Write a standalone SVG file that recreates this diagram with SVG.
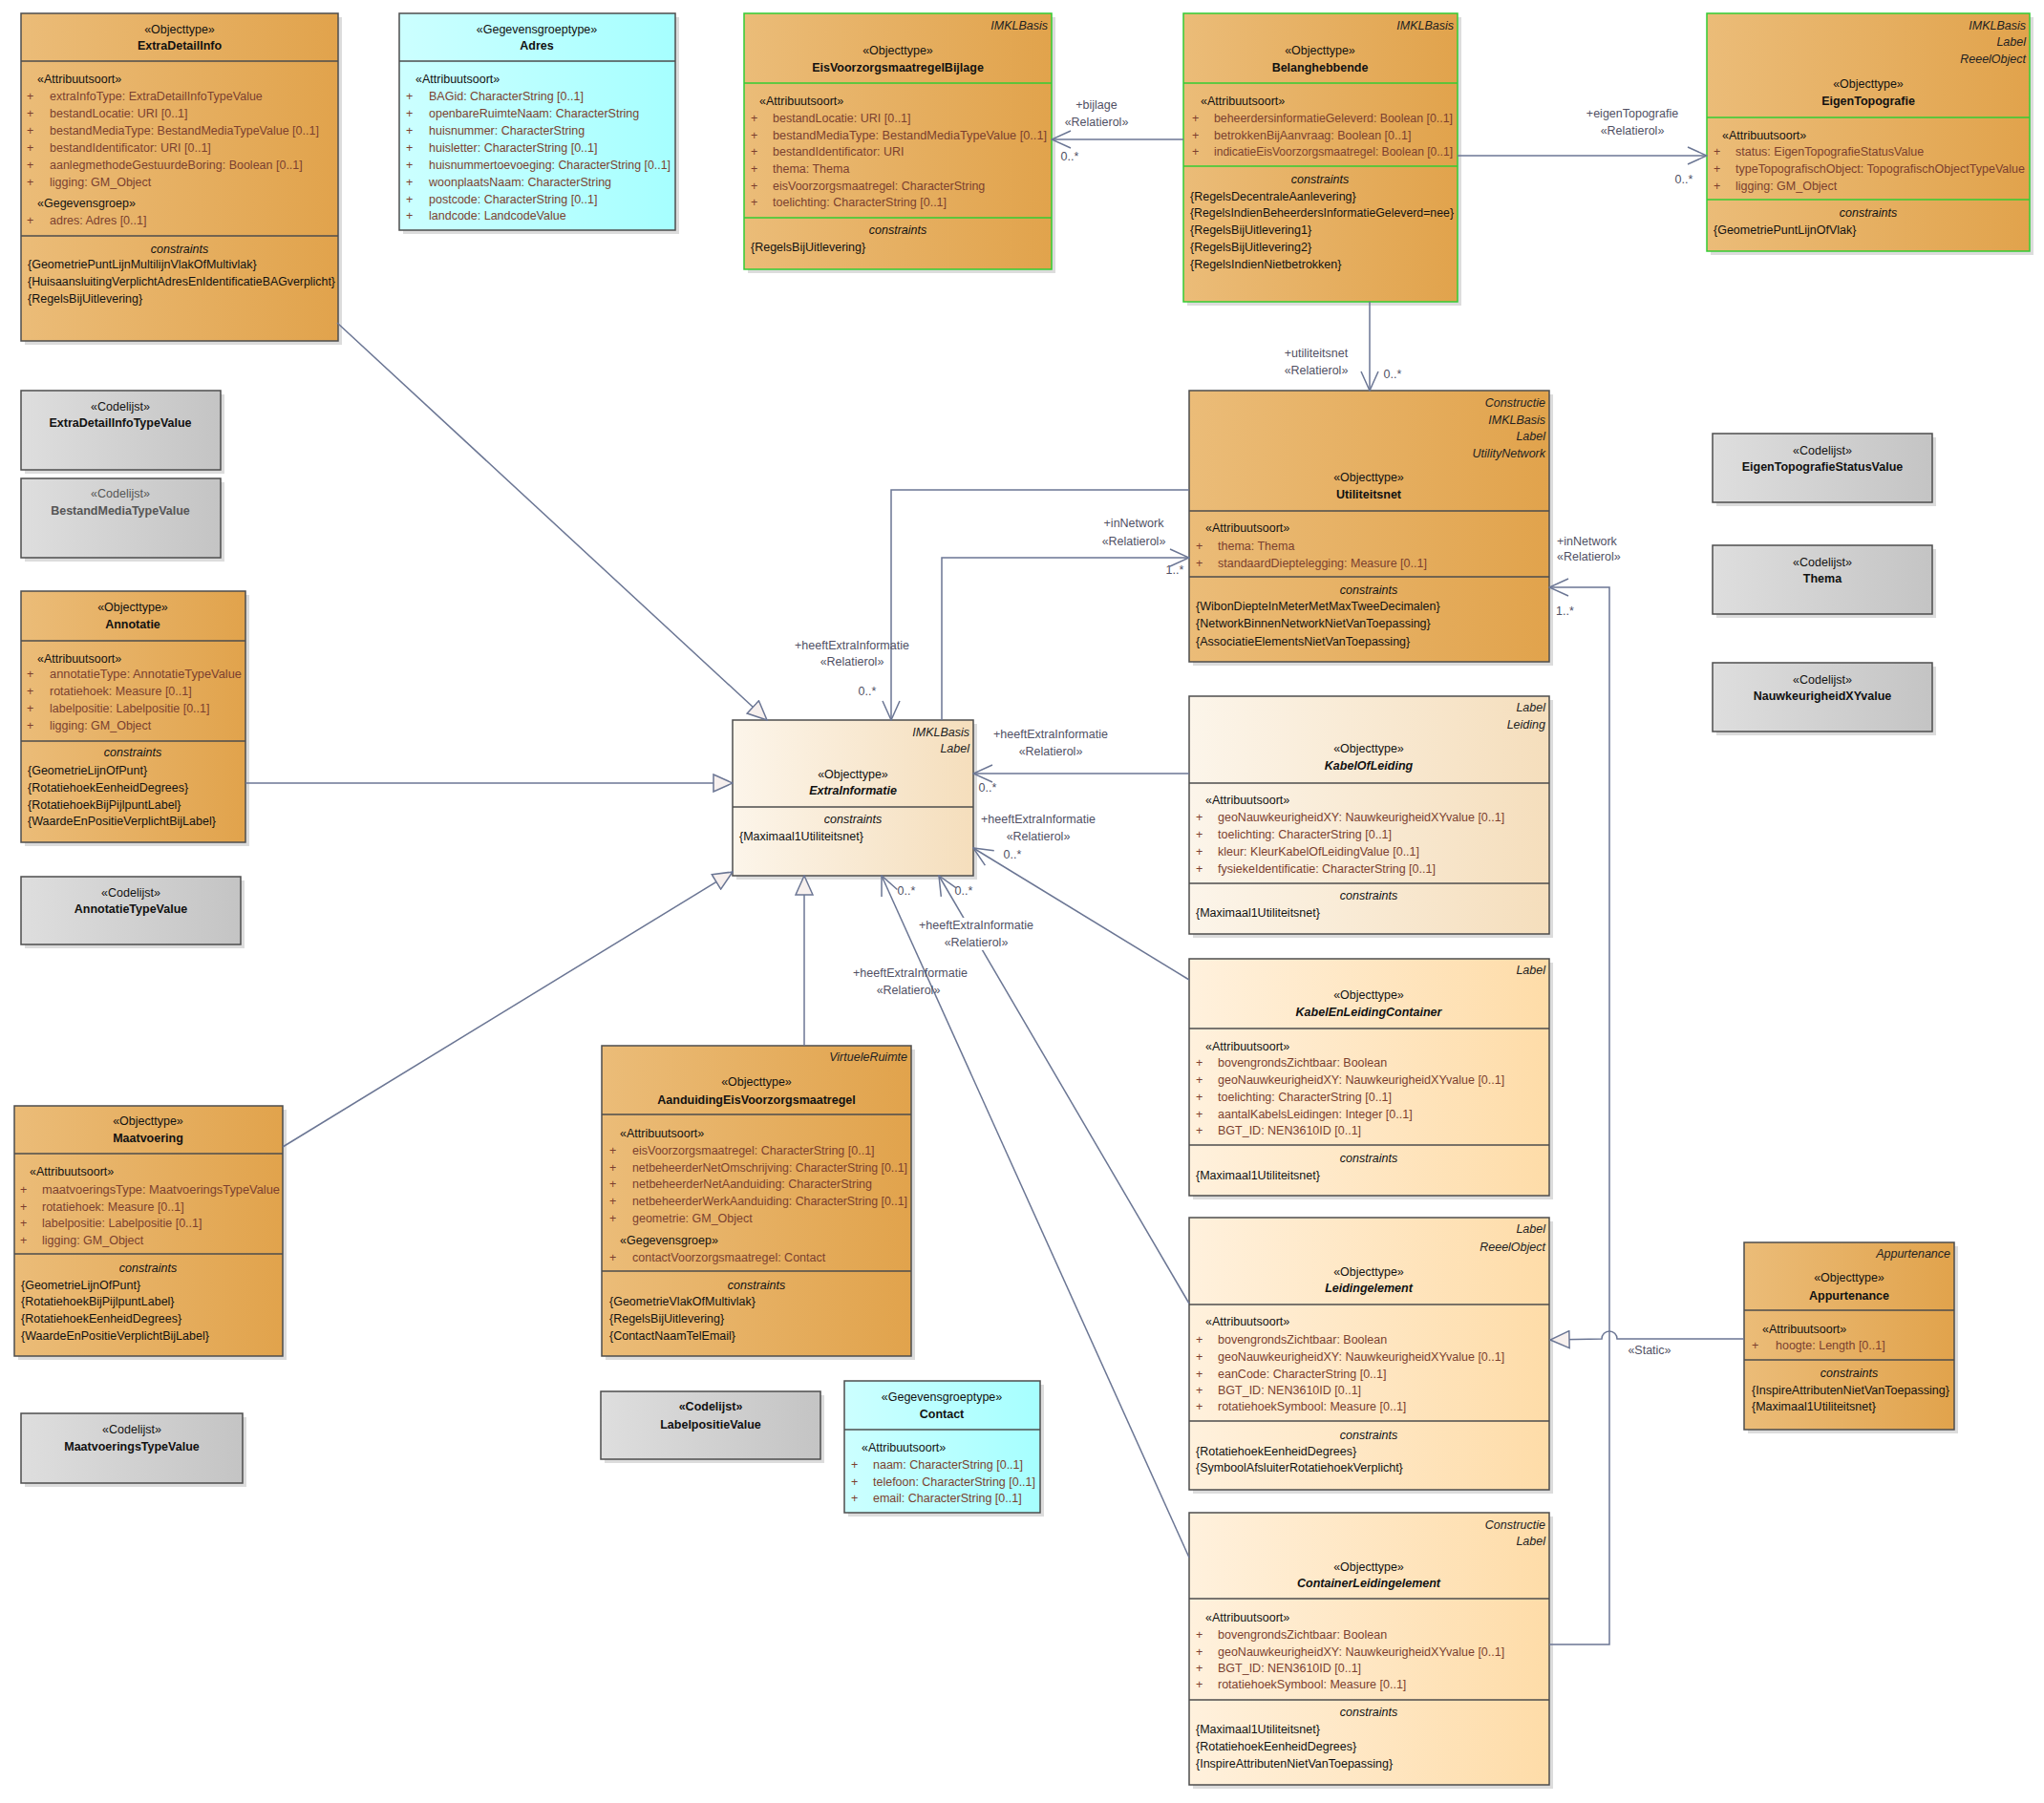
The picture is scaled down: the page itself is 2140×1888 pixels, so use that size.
<svg xmlns="http://www.w3.org/2000/svg" width="2140" height="1888" viewBox="0 0 2140 1888">
<defs>
<linearGradient id="gO" x1="0" y1="0" x2="1" y2="0"><stop offset="0" stop-color="#EBBC78"/><stop offset="1" stop-color="#E1A34C"/></linearGradient>
<linearGradient id="gP" x1="0" y1="0" x2="1" y2="0"><stop offset="0" stop-color="#FCF5EA"/><stop offset="1" stop-color="#F5DEBC"/></linearGradient>
<linearGradient id="gK" x1="0" y1="0" x2="1" y2="0"><stop offset="0" stop-color="#FFF1DD"/><stop offset="1" stop-color="#FEDCA8"/></linearGradient>
<linearGradient id="gC" x1="0" y1="0" x2="1" y2="0"><stop offset="0" stop-color="#CCFFFF"/><stop offset="1" stop-color="#A6FFFF"/></linearGradient>
<linearGradient id="gG" x1="0" y1="0" x2="1" y2="0"><stop offset="0" stop-color="#DEDEDE"/><stop offset="1" stop-color="#C4C4C4"/></linearGradient>
<marker id="open" viewBox="0 0 22 20" refX="21" refY="10" markerWidth="22" markerHeight="20" markerUnits="userSpaceOnUse" orient="auto"><path d="M1,1 L21,10 L1,19" fill="none" stroke="#6b7694" stroke-width="1.5"/></marker>
<marker id="tri" viewBox="0 0 22 20" refX="21" refY="10" markerWidth="22" markerHeight="20" markerUnits="userSpaceOnUse" orient="auto"><path d="M1,1 L21,10 L1,19 Z" fill="#f7f0ee" stroke="#6b7694" stroke-width="1.5"/></marker>
<style>
text{font-family:"Liberation Sans",Arial,sans-serif;font-size:12.5px;fill:#111}
.sh{fill:#9a9a9a;opacity:.35}
.box{stroke:#4d4d4d;stroke-width:1.5}
.gbox{stroke:#33cc33;stroke-width:1.5}
.dv{stroke:#4d4d4d;stroke-width:1.3}
.gdv{stroke:#33cc33;stroke-width:1.3}
.c{text-anchor:middle}
.b{font-weight:bold}
.bi{font-weight:bold;font-style:italic}
.tg{font-style:italic;text-anchor:end;fill:#222}
.ch{font-style:italic;text-anchor:middle}
.at{fill:#7b3f2f}
.gr{fill:#555}
.lb{fill:#505064;text-anchor:middle}
.lbs{fill:#505064}
.edge{stroke:#6b7694;stroke-width:1.5;fill:none}
.bg{fill:#ffffff}
</style>
</defs>
<rect x="0" y="0" width="2140" height="1888" fill="#ffffff"/>

<g id="ExtraDetailInfo">
<rect class="sh" x="26" y="18" width="332" height="343"/>
<rect class="box" x="22" y="14" width="332" height="343" fill="url(#gO)"/>
<line class="dv" x1="22" y1="64" x2="354" y2="64"/><line class="dv" x1="22" y1="247" x2="354" y2="247"/>
<text class="c" x="188" y="35">«Objecttype»</text><text class="c b" x="188" y="52">ExtraDetailInfo</text>
<text x="39" y="87">«Attribuutsoort»</text>
<text class="at" x="28" y="105">+</text><text class="at" x="52" y="105">extraInfoType: ExtraDetailInfoTypeValue</text>
<text class="at" x="28" y="123">+</text><text class="at" x="52" y="123">bestandLocatie: URI [0..1]</text>
<text class="at" x="28" y="141">+</text><text class="at" x="52" y="141">bestandMediaType: BestandMediaTypeValue [0..1]</text>
<text class="at" x="28" y="159">+</text><text class="at" x="52" y="159">bestandIdentificator: URI [0..1]</text>
<text class="at" x="28" y="177">+</text><text class="at" x="52" y="177">aanlegmethodeGestuurdeBoring: Boolean [0..1]</text>
<text class="at" x="28" y="195">+</text><text class="at" x="52" y="195">ligging: GM_Object</text>
<text x="39" y="217">«Gegevensgroep»</text>
<text class="at" x="28" y="235">+</text><text class="at" x="52" y="235">adres: Adres [0..1]</text>
<text class="ch" x="188" y="265">constraints</text>
<text x="29" y="281">{GeometriePuntLijnMultilijnVlakOfMultivlak}</text>
<text x="29" y="299" textLength="322" lengthAdjust="spacingAndGlyphs">{HuisaansluitingVerplichtAdresEnIdentificatieBAGverplicht}</text>
<text x="29" y="317">{RegelsBijUitlevering}</text>
</g>

<g id="Adres">
<rect class="sh" x="422" y="18" width="289" height="227"/>
<rect class="box" x="418" y="14" width="289" height="227" fill="url(#gC)"/>
<line class="dv" x1="418" y1="64" x2="707" y2="64"/>
<text class="c" x="562" y="35">«Gegevensgroeptype»</text><text class="c b" x="562" y="52">Adres</text>
<text x="435" y="87">«Attribuutsoort»</text>
<text class="at" x="425" y="105">+</text><text class="at" x="449" y="105">BAGid: CharacterString [0..1]</text>
<text class="at" x="425" y="123">+</text><text class="at" x="449" y="123">openbareRuimteNaam: CharacterString</text>
<text class="at" x="425" y="141">+</text><text class="at" x="449" y="141">huisnummer: CharacterString</text>
<text class="at" x="425" y="159">+</text><text class="at" x="449" y="159">huisletter: CharacterString [0..1]</text>
<text class="at" x="425" y="177">+</text><text class="at" x="449" y="177" textLength="253" lengthAdjust="spacingAndGlyphs">huisnummertoevoeging: CharacterString [0..1]</text>
<text class="at" x="425" y="195">+</text><text class="at" x="449" y="195">woonplaatsNaam: CharacterString</text>
<text class="at" x="425" y="213">+</text><text class="at" x="449" y="213">postcode: CharacterString [0..1]</text>
<text class="at" x="425" y="230">+</text><text class="at" x="449" y="230">landcode: LandcodeValue</text>
</g>

<g id="EisVoorzorgsmaatregelBijlage">
<rect class="sh" x="783" y="18" width="322" height="268"/>
<rect class="gbox" x="779" y="14" width="322" height="268" fill="url(#gO)"/>
<line class="gdv" x1="779" y1="87" x2="1101" y2="87"/><line class="gdv" x1="779" y1="228" x2="1101" y2="228"/>
<text class="tg" x="1097" y="31">IMKLBasis</text>
<text class="c" x="940" y="57">«Objecttype»</text><text class="c b" x="940" y="75">EisVoorzorgsmaatregelBijlage</text>
<text x="795" y="110">«Attribuutsoort»</text>
<text class="at" x="786" y="128">+</text><text class="at" x="809" y="128">bestandLocatie: URI [0..1]</text>
<text class="at" x="786" y="146">+</text><text class="at" x="809" y="146" textLength="287" lengthAdjust="spacingAndGlyphs">bestandMediaType: BestandMediaTypeValue [0..1]</text>
<text class="at" x="786" y="163">+</text><text class="at" x="809" y="163">bestandIdentificator: URI</text>
<text class="at" x="786" y="181">+</text><text class="at" x="809" y="181">thema: Thema</text>
<text class="at" x="786" y="199">+</text><text class="at" x="809" y="199">eisVoorzorgsmaatregel: CharacterString</text>
<text class="at" x="786" y="216">+</text><text class="at" x="809" y="216">toelichting: CharacterString [0..1]</text>
<text class="ch" x="940" y="245">constraints</text>
<text x="786" y="263">{RegelsBijUitlevering}</text>
</g>

<g id="Belanghebbende">
<rect class="sh" x="1243" y="18" width="287" height="302"/>
<rect class="gbox" x="1239" y="14" width="287" height="302" fill="url(#gO)"/>
<line class="gdv" x1="1239" y1="87" x2="1526" y2="87"/><line class="gdv" x1="1239" y1="174" x2="1526" y2="174"/>
<text class="tg" x="1522" y="31">IMKLBasis</text>
<text class="c" x="1382" y="57">«Objecttype»</text><text class="c b" x="1382" y="75">Belanghebbende</text>
<text x="1257" y="110">«Attribuutsoort»</text>
<text class="at" x="1248" y="128">+</text><text class="at" x="1271" y="128" textLength="250" lengthAdjust="spacingAndGlyphs">beheerdersinformatieGeleverd: Boolean [0..1]</text>
<text class="at" x="1248" y="146">+</text><text class="at" x="1271" y="146">betrokkenBijAanvraag: Boolean [0..1]</text>
<text class="at" x="1248" y="163">+</text><text class="at" x="1271" y="163" textLength="250" lengthAdjust="spacingAndGlyphs">indicatieEisVoorzorgsmaatregel: Boolean [0..1]</text>
<text class="ch" x="1382" y="192">constraints</text>
<text x="1246" y="210">{RegelsDecentraleAanlevering}</text>
<text x="1246" y="227" textLength="276" lengthAdjust="spacingAndGlyphs">{RegelsIndienBeheerdersInformatieGeleverd=nee}</text>
<text x="1246" y="245">{RegelsBijUitlevering1}</text>
<text x="1246" y="263">{RegelsBijUitlevering2}</text>
<text x="1246" y="281">{RegelsIndienNietbetrokken}</text>
</g>

<g id="EigenTopografie">
<rect class="sh" x="1791" y="18" width="338" height="249"/>
<rect class="gbox" x="1787" y="14" width="338" height="249" fill="url(#gO)"/>
<line class="gdv" x1="1787" y1="123" x2="2125" y2="123"/><line class="gdv" x1="1787" y1="209" x2="2125" y2="209"/>
<text class="tg" x="2121" y="31">IMKLBasis</text><text class="tg" x="2121" y="48">Label</text><text class="tg" x="2121" y="66">ReeelObject</text>
<text class="c" x="1956" y="92">«Objecttype»</text><text class="c b" x="1956" y="110">EigenTopografie</text>
<text x="1803" y="146">«Attribuutsoort»</text>
<text class="at" x="1794" y="163">+</text><text class="at" x="1817" y="163">status: EigenTopografieStatusValue</text>
<text class="at" x="1794" y="181">+</text><text class="at" x="1817" y="181" textLength="303" lengthAdjust="spacingAndGlyphs">typeTopografischObject: TopografischObjectTypeValue</text>
<text class="at" x="1794" y="199">+</text><text class="at" x="1817" y="199">ligging: GM_Object</text>
<text class="ch" x="1956" y="227">constraints</text>
<text x="1794" y="245">{GeometriePuntLijnOfVlak}</text>
</g>

<g id="ExtraDetailInfoTypeValue">
<rect class="sh" x="26" y="413" width="209" height="83"/>
<rect class="box" x="22" y="409" width="209" height="83" fill="url(#gG)"/>
<text class="c" x="126" y="430">«Codelijst»</text><text class="c b" x="126" y="447">ExtraDetailInfoTypeValue</text>
</g>

<g id="BestandMediaTypeValue">
<rect class="sh" x="26" y="505" width="209" height="83"/>
<rect class="box" x="22" y="501" width="209" height="83" fill="url(#gG)"/>
<text class="c gr" x="126" y="521">«Codelijst»</text><text class="c b gr" x="126" y="539">BestandMediaTypeValue</text>
</g>

<g id="Annotatie">
<rect class="sh" x="26" y="623" width="235" height="263"/>
<rect class="box" x="22" y="619" width="235" height="263" fill="url(#gO)"/>
<line class="dv" x1="22" y1="671" x2="257" y2="671"/><line class="dv" x1="22" y1="776" x2="257" y2="776"/>
<text class="c" x="139" y="640">«Objecttype»</text><text class="c b" x="139" y="658">Annotatie</text>
<text x="39" y="694">«Attribuutsoort»</text>
<text class="at" x="28" y="710">+</text><text class="at" x="52" y="710" textLength="201" lengthAdjust="spacingAndGlyphs">annotatieType: AnnotatieTypeValue</text>
<text class="at" x="28" y="728">+</text><text class="at" x="52" y="728">rotatiehoek: Measure [0..1]</text>
<text class="at" x="28" y="746">+</text><text class="at" x="52" y="746">labelpositie: Labelpositie [0..1]</text>
<text class="at" x="28" y="764">+</text><text class="at" x="52" y="764">ligging: GM_Object</text>
<text class="ch" x="139" y="792">constraints</text>
<text x="29" y="811">{GeometrieLijnOfPunt}</text>
<text x="29" y="829">{RotatiehoekEenheidDegrees}</text>
<text x="29" y="847">{RotatiehoekBijPijlpuntLabel}</text>
<text x="29" y="864">{WaardeEnPositieVerplichtBijLabel}</text>
</g>

<g id="AnnotatieTypeValue">
<rect class="sh" x="26" y="922" width="230" height="71"/>
<rect class="box" x="22" y="918" width="230" height="71" fill="url(#gG)"/>
<text class="c" x="137" y="939">«Codelijst»</text><text class="c b" x="137" y="956">AnnotatieTypeValue</text>
</g>

<g id="Maatvoering">
<rect class="sh" x="19" y="1162" width="281" height="262"/>
<rect class="box" x="15" y="1158" width="281" height="262" fill="url(#gO)"/>
<line class="dv" x1="15" y1="1208" x2="296" y2="1208"/><line class="dv" x1="15" y1="1313" x2="296" y2="1313"/>
<text class="c" x="155" y="1178">«Objecttype»</text><text class="c b" x="155" y="1196">Maatvoering</text>
<text x="31" y="1231">«Attribuutsoort»</text>
<text class="at" x="21" y="1250">+</text><text class="at" x="44" y="1250" textLength="249" lengthAdjust="spacingAndGlyphs">maatvoeringsType: MaatvoeringsTypeValue</text>
<text class="at" x="21" y="1268">+</text><text class="at" x="44" y="1268">rotatiehoek: Measure [0..1]</text>
<text class="at" x="21" y="1285">+</text><text class="at" x="44" y="1285">labelpositie: Labelpositie [0..1]</text>
<text class="at" x="21" y="1303">+</text><text class="at" x="44" y="1303">ligging: GM_Object</text>
<text class="ch" x="155" y="1332">constraints</text>
<text x="22" y="1350">{GeometrieLijnOfPunt}</text>
<text x="22" y="1367">{RotatiehoekBijPijlpuntLabel}</text>
<text x="22" y="1385">{RotatiehoekEenheidDegrees}</text>
<text x="22" y="1403">{WaardeEnPositieVerplichtBijLabel}</text>
</g>

<g id="MaatvoeringsTypeValue">
<rect class="sh" x="26" y="1484" width="232" height="73"/>
<rect class="box" x="22" y="1480" width="232" height="73" fill="url(#gG)"/>
<text class="c" x="138" y="1501">«Codelijst»</text><text class="c b" x="138" y="1519">MaatvoeringsTypeValue</text>
</g>

<g id="AanduidingEisVoorzorgsmaatregel">
<rect class="sh" x="634" y="1099" width="324" height="325"/>
<rect class="box" x="630" y="1095" width="324" height="325" fill="url(#gO)"/>
<line class="dv" x1="630" y1="1167" x2="954" y2="1167"/><line class="dv" x1="630" y1="1331" x2="954" y2="1331"/>
<text class="tg" x="950" y="1111">VirtueleRuimte</text>
<text class="c" x="792" y="1137">«Objecttype»</text><text class="c b" x="792" y="1156">AanduidingEisVoorzorgsmaatregel</text>
<text x="649" y="1191">«Attribuutsoort»</text>
<text class="at" x="638" y="1209">+</text><text class="at" x="662" y="1209">eisVoorzorgsmaatregel: CharacterString [0..1]</text>
<text class="at" x="638" y="1227">+</text><text class="at" x="662" y="1227" textLength="288" lengthAdjust="spacingAndGlyphs">netbeheerderNetOmschrijving: CharacterString [0..1]</text>
<text class="at" x="638" y="1244">+</text><text class="at" x="662" y="1244">netbeheerderNetAanduiding: CharacterString</text>
<text class="at" x="638" y="1262">+</text><text class="at" x="662" y="1262" textLength="288" lengthAdjust="spacingAndGlyphs">netbeheerderWerkAanduiding: CharacterString [0..1]</text>
<text class="at" x="638" y="1280">+</text><text class="at" x="662" y="1280">geometrie: GM_Object</text>
<text x="649" y="1303">«Gegevensgroep»</text>
<text class="at" x="638" y="1321">+</text><text class="at" x="662" y="1321">contactVoorzorgsmaatregel: Contact</text>
<text class="ch" x="792" y="1350">constraints</text>
<text x="638" y="1367">{GeometrieVlakOfMultivlak}</text>
<text x="638" y="1385">{RegelsBijUitlevering}</text>
<text x="638" y="1403">{ContactNaamTelEmail}</text>
</g>

<g id="LabelpositieValue">
<rect class="sh" x="633" y="1461" width="230" height="71"/>
<rect class="box" x="629" y="1457" width="230" height="71" fill="url(#gG)"/>
<text class="c b" x="744" y="1477">«Codelijst»</text><text class="c b" x="744" y="1496">LabelpositieValue</text>
</g>

<g id="Contact">
<rect class="sh" x="888" y="1450" width="205" height="138"/>
<rect class="box" x="884" y="1446" width="205" height="138" fill="url(#gC)"/>
<line class="dv" x1="884" y1="1497" x2="1089" y2="1497"/>
<text class="c" x="986" y="1467">«Gegevensgroeptype»</text><text class="c b" x="986" y="1485">Contact</text>
<text x="902" y="1520">«Attribuutsoort»</text>
<text class="at" x="891" y="1538">+</text><text class="at" x="914" y="1538">naam: CharacterString [0..1]</text>
<text class="at" x="891" y="1556">+</text><text class="at" x="914" y="1556" textLength="170" lengthAdjust="spacingAndGlyphs">telefoon: CharacterString [0..1]</text>
<text class="at" x="891" y="1573">+</text><text class="at" x="914" y="1573">email: CharacterString [0..1]</text>
</g>

<g id="ExtraInformatie">
<rect class="sh" x="771" y="758" width="252" height="163"/>
<rect class="box" x="767" y="754" width="252" height="163" fill="url(#gP)"/>
<line class="dv" x1="767" y1="845" x2="1019" y2="845"/>
<text class="tg" x="1015" y="771">IMKLBasis</text><text class="tg" x="1015" y="788">Label</text>
<text class="c" x="893" y="815">«Objecttype»</text><text class="c bi" x="893" y="832">ExtraInformatie</text>
<text class="ch" x="893" y="862">constraints</text>
<text x="774" y="880">{Maximaal1Utiliteitsnet}</text>
</g>

<g id="Utiliteitsnet">
<rect class="sh" x="1249" y="413" width="377" height="284"/>
<rect class="box" x="1245" y="409" width="377" height="284" fill="url(#gO)"/>
<line class="dv" x1="1245" y1="535" x2="1622" y2="535"/><line class="dv" x1="1245" y1="604" x2="1622" y2="604"/>
<text class="tg" x="1618" y="426">Constructie</text><text class="tg" x="1618" y="444">IMKLBasis</text><text class="tg" x="1618" y="461">Label</text><text class="tg" x="1618" y="479">UtilityNetwork</text>
<text class="c" x="1433" y="504">«Objecttype»</text><text class="c b" x="1433" y="522">Utiliteitsnet</text>
<text x="1262" y="557">«Attribuutsoort»</text>
<text class="at" x="1252" y="576">+</text><text class="at" x="1275" y="576">thema: Thema</text>
<text class="at" x="1252" y="594">+</text><text class="at" x="1275" y="594">standaardDieptelegging: Measure [0..1]</text>
<text class="ch" x="1433" y="622">constraints</text>
<text x="1252" y="639">{WibonDiepteInMeterMetMaxTweeDecimalen}</text>
<text x="1252" y="657">{NetworkBinnenNetworkNietVanToepassing}</text>
<text x="1252" y="676">{AssociatieElementsNietVanToepassing}</text>
</g>

<g id="KabelOfLeiding">
<rect class="sh" x="1249" y="733" width="377" height="249"/>
<rect class="box" x="1245" y="729" width="377" height="249" fill="url(#gP)"/>
<line class="dv" x1="1245" y1="820" x2="1622" y2="820"/><line class="dv" x1="1245" y1="925" x2="1622" y2="925"/>
<text class="tg" x="1618" y="745">Label</text><text class="tg" x="1618" y="763">Leiding</text>
<text class="c" x="1433" y="788">«Objecttype»</text><text class="c bi" x="1433" y="806">KabelOfLeiding</text>
<text x="1262" y="842">«Attribuutsoort»</text>
<text class="at" x="1252" y="860">+</text><text class="at" x="1275" y="860">geoNauwkeurigheidXY: NauwkeurigheidXYvalue [0..1]</text>
<text class="at" x="1252" y="878">+</text><text class="at" x="1275" y="878">toelichting: CharacterString [0..1]</text>
<text class="at" x="1252" y="896">+</text><text class="at" x="1275" y="896">kleur: KleurKabelOfLeidingValue [0..1]</text>
<text class="at" x="1252" y="914">+</text><text class="at" x="1275" y="914">fysiekeIdentificatie: CharacterString [0..1]</text>
<text class="ch" x="1433" y="942">constraints</text>
<text x="1252" y="960">{Maximaal1Utiliteitsnet}</text>
</g>

<g id="KabelEnLeidingContainer">
<rect class="sh" x="1249" y="1008" width="377" height="248"/>
<rect class="box" x="1245" y="1004" width="377" height="248" fill="url(#gK)"/>
<line class="dv" x1="1245" y1="1077" x2="1622" y2="1077"/><line class="dv" x1="1245" y1="1199" x2="1622" y2="1199"/>
<text class="tg" x="1618" y="1020">Label</text>
<text class="c" x="1433" y="1046">«Objecttype»</text><text class="c bi" x="1433" y="1064">KabelEnLeidingContainer</text>
<text x="1262" y="1100">«Attribuutsoort»</text>
<text class="at" x="1252" y="1117">+</text><text class="at" x="1275" y="1117">bovengrondsZichtbaar: Boolean</text>
<text class="at" x="1252" y="1135">+</text><text class="at" x="1275" y="1135">geoNauwkeurigheidXY: NauwkeurigheidXYvalue [0..1]</text>
<text class="at" x="1252" y="1153">+</text><text class="at" x="1275" y="1153">toelichting: CharacterString [0..1]</text>
<text class="at" x="1252" y="1171">+</text><text class="at" x="1275" y="1171">aantalKabelsLeidingen: Integer [0..1]</text>
<text class="at" x="1252" y="1188">+</text><text class="at" x="1275" y="1188">BGT_ID: NEN3610ID [0..1]</text>
<text class="ch" x="1433" y="1217">constraints</text>
<text x="1252" y="1235">{Maximaal1Utiliteitsnet}</text>
</g>

<g id="Leidingelement">
<rect class="sh" x="1249" y="1279" width="377" height="285"/>
<rect class="box" x="1245" y="1275" width="377" height="285" fill="url(#gK)"/>
<line class="dv" x1="1245" y1="1366" x2="1622" y2="1366"/><line class="dv" x1="1245" y1="1488" x2="1622" y2="1488"/>
<text class="tg" x="1618" y="1291">Label</text><text class="tg" x="1618" y="1310">ReeelObject</text>
<text class="c" x="1433" y="1336">«Objecttype»</text><text class="c bi" x="1433" y="1353">Leidingelement</text>
<text x="1262" y="1388">«Attribuutsoort»</text>
<text class="at" x="1252" y="1407">+</text><text class="at" x="1275" y="1407">bovengrondsZichtbaar: Boolean</text>
<text class="at" x="1252" y="1425">+</text><text class="at" x="1275" y="1425">geoNauwkeurigheidXY: NauwkeurigheidXYvalue [0..1]</text>
<text class="at" x="1252" y="1443">+</text><text class="at" x="1275" y="1443">eanCode: CharacterString [0..1]</text>
<text class="at" x="1252" y="1460">+</text><text class="at" x="1275" y="1460">BGT_ID: NEN3610ID [0..1]</text>
<text class="at" x="1252" y="1477">+</text><text class="at" x="1275" y="1477">rotatiehoekSymbool: Measure [0..1]</text>
<text class="ch" x="1433" y="1507">constraints</text>
<text x="1252" y="1524">{RotatiehoekEenheidDegrees}</text>
<text x="1252" y="1541">{SymboolAfsluiterRotatiehoekVerplicht}</text>
</g>

<g id="ContainerLeidingelement">
<rect class="sh" x="1249" y="1588" width="377" height="285"/>
<rect class="box" x="1245" y="1584" width="377" height="285" fill="url(#gK)"/>
<line class="dv" x1="1245" y1="1674" x2="1622" y2="1674"/><line class="dv" x1="1245" y1="1780" x2="1622" y2="1780"/>
<text class="tg" x="1618" y="1601">Constructie</text><text class="tg" x="1618" y="1618">Label</text>
<text class="c" x="1433" y="1645">«Objecttype»</text><text class="c bi" x="1433" y="1662">ContainerLeidingelement</text>
<text x="1262" y="1698">«Attribuutsoort»</text>
<text class="at" x="1252" y="1716">+</text><text class="at" x="1275" y="1716">bovengrondsZichtbaar: Boolean</text>
<text class="at" x="1252" y="1734">+</text><text class="at" x="1275" y="1734">geoNauwkeurigheidXY: NauwkeurigheidXYvalue [0..1]</text>
<text class="at" x="1252" y="1751">+</text><text class="at" x="1275" y="1751">BGT_ID: NEN3610ID [0..1]</text>
<text class="at" x="1252" y="1768">+</text><text class="at" x="1275" y="1768">rotatiehoekSymbool: Measure [0..1]</text>
<text class="ch" x="1433" y="1797">constraints</text>
<text x="1252" y="1815">{Maximaal1Utiliteitsnet}</text>
<text x="1252" y="1833">{RotatiehoekEenheidDegrees}</text>
<text x="1252" y="1851">{InspireAttributenNietVanToepassing}</text>
</g>

<g id="Appurtenance">
<rect class="sh" x="1830" y="1305" width="220" height="196"/>
<rect class="box" x="1826" y="1301" width="220" height="196" fill="url(#gO)"/>
<line class="dv" x1="1826" y1="1372" x2="2046" y2="1372"/><line class="dv" x1="1826" y1="1424" x2="2046" y2="1424"/>
<text class="tg" x="2042" y="1317">Appurtenance</text>
<text class="c" x="1936" y="1342">«Objecttype»</text><text class="c b" x="1936" y="1361">Appurtenance</text>
<text x="1845" y="1396">«Attribuutsoort»</text>
<text class="at" x="1834" y="1413">+</text><text class="at" x="1859" y="1413">hoogte: Length [0..1]</text>
<text class="ch" x="1936" y="1442">constraints</text>
<text x="1834" y="1460" textLength="207" lengthAdjust="spacingAndGlyphs">{InspireAttributenNietVanToepassing}</text>
<text x="1834" y="1477">{Maximaal1Utiliteitsnet}</text>
</g>

<g id="EigenTopografieStatusValue">
<rect class="sh" x="1797" y="458" width="230" height="72"/>
<rect class="box" x="1793" y="454" width="230" height="72" fill="url(#gG)"/>
<text class="c" x="1908" y="476">«Codelijst»</text><text class="c b" x="1908" y="493">EigenTopografieStatusValue</text>
</g>

<g id="Thema">
<rect class="sh" x="1797" y="575" width="230" height="72"/>
<rect class="box" x="1793" y="571" width="230" height="72" fill="url(#gG)"/>
<text class="c" x="1908" y="593">«Codelijst»</text><text class="c b" x="1908" y="610">Thema</text>
</g>

<g id="NauwkeurigheidXYvalue">
<rect class="sh" x="1797" y="698" width="230" height="72"/>
<rect class="box" x="1793" y="694" width="230" height="72" fill="url(#gG)"/>
<text class="c" x="1908" y="716">«Codelijst»</text><text class="c b" x="1908" y="733">NauwkeurigheidXYvalue</text>
</g>

<g id="connectors">
<path class="edge" d="M353,338 L803,754" marker-end="url(#tri)"/>
<path class="edge" d="M257,820 L767,820" marker-end="url(#tri)"/>
<path class="edge" d="M296,1201 L767,913" marker-end="url(#tri)"/>
<path class="edge" d="M842,1095 L842,917" marker-end="url(#tri)"/>
<path class="edge" d="M1826,1402 L1693,1402 A8,8 0 0 0 1677,1402 L1623,1403" marker-end="url(#tri)"/>

<path class="edge" d="M1239,146 L1101,146" marker-end="url(#open)"/>
<path class="edge" d="M1526,163 L1787,163" marker-end="url(#open)"/>
<path class="edge" d="M1434,316 L1434,409" marker-end="url(#open)"/>
<path class="edge" d="M1245,513 L933,513 L933,754" marker-end="url(#open)"/>
<path class="edge" d="M986,754 L986,584 L1245,584" marker-end="url(#open)"/>
<path class="edge" d="M1245,810 L1019,810" marker-end="url(#open)"/>
<path class="edge" d="M1245,1026 L1019,888" marker-end="url(#open)"/>
<path class="edge" d="M1245,1365 L983,917" marker-end="url(#open)"/>
<path class="edge" d="M1245,1631 L923,917" marker-end="url(#open)"/>
<path class="edge" d="M1622,1722 L1685,1722 L1685,615 L1622,615" marker-end="url(#open)"/>

<rect class="bg" x="970" y="961" width="104" height="34"/>

<text class="lb" x="1148" y="114">+bijlage</text><text class="lb" x="1148" y="132">«Relatierol»</text><text class="lb" x="1120" y="168">0..*</text>
<text class="lb" x="1709" y="123">+eigenTopografie</text><text class="lb" x="1709" y="141">«Relatierol»</text><text class="lb" x="1763" y="192">0..*</text>
<text class="lb" x="1378" y="374">+utiliteitsnet</text><text class="lb" x="1378" y="392">«Relatierol»</text><text class="lb" x="1458" y="396">0..*</text>
<text class="lb" x="892" y="680">+heeftExtraInformatie</text><text class="lb" x="892" y="697">«Relatierol»</text><text class="lb" x="908" y="728">0..*</text>
<text class="lb" x="1187" y="552">+inNetwork</text><text class="lb" x="1187" y="571">«Relatierol»</text><text class="lb" x="1230" y="601">1..*</text>
<text class="lb" x="1100" y="773">+heeftExtraInformatie</text><text class="lb" x="1100" y="791">«Relatierol»</text><text class="lb" x="1034" y="829">0..*</text>
<text class="lb" x="1087" y="862">+heeftExtraInformatie</text><text class="lb" x="1087" y="880">«Relatierol»</text><text class="lb" x="1060" y="899">0..*</text>
<text class="lb" x="1009" y="937">0..*</text><text class="lb" x="1022" y="973">+heeftExtraInformatie</text><text class="lb" x="1022" y="991">«Relatierol»</text>
<text class="lb" x="949" y="937">0..*</text><text class="lb" x="953" y="1023">+heeftExtraInformatie</text><text class="lb" x="951" y="1041">«Relatierol»</text>
<text class="lbs" x="1630" y="571">+inNetwork</text><text class="lbs" x="1630" y="587">«Relatierol»</text><text class="lbs" x="1629" y="644">1..*</text>
<text class="lb" x="1727" y="1418">«Static»</text>
</g>
</svg>
